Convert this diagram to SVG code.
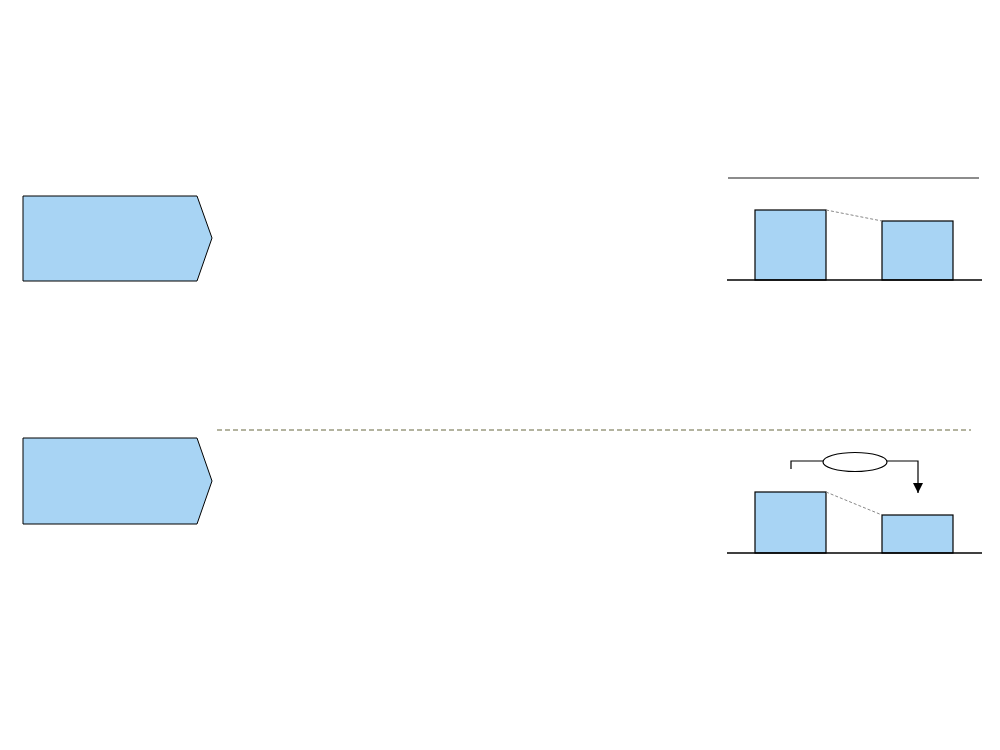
<svg xmlns="http://www.w3.org/2000/svg" width="1000" height="750" viewBox="0 0 1000 750">
<style>
.shape{fill:#a8d4f4;stroke:#000;stroke-width:1}
.bar{fill:#a8d4f4;stroke:#000;stroke-width:1.2}
.base{stroke:#000;stroke-width:1.3;fill:none}
.link{stroke:#888;stroke-width:1;stroke-dasharray:3,2;fill:none}
</style>
<defs>
<marker id="ah" markerWidth="10" markerHeight="10" refX="10" refY="5" orient="auto" markerUnits="userSpaceOnUse" viewBox="0 0 10 10">
<path d="M0,0 L10,5 L0,10 Z" fill="#000"/>
</marker>
</defs>
<rect width="1000" height="750" fill="#fff"/>
<g id="step1"><path class="shape" d="M23,196 L197,196 L212,238 L197,281 L23,281 Z"/></g>
<g id="step2"><path class="shape" d="M23,438 L197,438 L212,481 L197,524 L23,524 Z"/></g>
<g id="chart1">
<line x1="728" y1="178" x2="979" y2="178" stroke="#666" stroke-width="1.5"/>
<rect class="bar" x="755" y="210" width="71" height="70"/>
<rect class="bar" x="882" y="221" width="71" height="59"/>
<line class="base" x1="727" y1="280" x2="982" y2="280"/>
</g>
<g id="chart2">
<rect class="bar" x="755" y="492" width="71" height="61"/>
<rect class="bar" x="882" y="515" width="71" height="38"/>
<line class="base" x1="727" y1="553" x2="982" y2="553"/>
<ellipse id="label-oval" cx="855" cy="462" rx="32" ry="9.5" fill="#fff" stroke="#000" stroke-width="1.2"/>
</g>
<g id="connectors">
<line x1="217" y1="430" x2="971" y2="430" stroke="#9a9a80" stroke-width="1.5" stroke-dasharray="5,3"/>
<line class="link" x1="826" y1="210" x2="882" y2="221"/>
<line class="link" x1="826" y1="492" x2="882" y2="515"/>
<path d="M791,469 L791,461 L823,461" fill="none" stroke="#000" stroke-width="1.2"/>
<path d="M887,461 L918,461 L918,493" fill="none" stroke="#000" stroke-width="1.2" marker-end="url(#ah)"/>
</g>
</svg>
